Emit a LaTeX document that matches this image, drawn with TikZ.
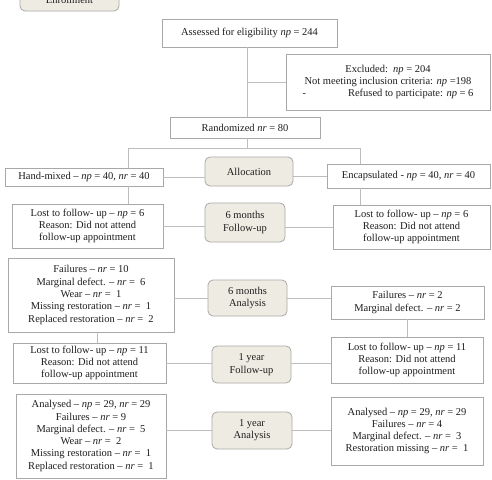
\documentclass[tikz,border=0pt]{standalone}
\usepackage{fontspec}
\setmainfont{Liberation Serif}
\definecolor{boxline}{HTML}{A8A8A8}
\definecolor{conn}{HTML}{BDBDBD}
\definecolor{beige}{HTML}{EEECE2}
\definecolor{txt}{HTML}{1E1E1E}
\begin{document}
\begin{tikzpicture}[x=1pt,y=-1pt,
  every node/.style={font=\fontsize{10.5}{12.3}\selectfont, text=txt},
  box/.style={draw=boxline, line width=0.8pt, fill=white, align=center, inner sep=0pt},
  stage/.style={draw=boxline, line width=0.8pt, fill=beige, rounded corners=5pt, align=center, inner sep=0pt},
  link/.style={draw=conn, line width=0.8pt}]
\useasboundingbox (0,0) rectangle (492,479);
\newcommand{\np}{\textit{np}}
\newcommand{\nr}{\textit{nr}}
% stages
\node[stage, minimum width=99pt, minimum height=23pt] (enroll) at (69.5,-0.5) {Enrollment};
\node[stage, minimum width=88pt, minimum height=29pt] (alloc) at (249,171.5) {Allocation};
\node[stage, minimum width=80pt, minimum height=39pt] (fu6) at (245,222.5) {6 months\\Follow-up};
\node[stage, minimum width=79pt, minimum height=36pt] (an6) at (247.5,298) {6 months\\Analysis};
\node[stage, minimum width=79pt, minimum height=37pt] (fu1) at (251.5,364.5) {1 year\\Follow-up};
\node[stage, minimum width=80pt, minimum height=37pt] (an1) at (252,430.5) {1 year\\Analysis};
% boxes
\node[box, minimum width=175pt, minimum height=28pt] (assess) at (249.5,33) {Assessed for eligibility \np{} = 244};
\node[box, minimum width=204pt, minimum height=56pt] (excl) at (388,82) {Excluded:\ \ \np{} = 204\\Not meeting inclusion criteria: \np{} =198\\-\hspace{42pt}Refused to participate: \np{} = 6};
\node[box, minimum width=150pt, minimum height=21pt] (rand) at (245,127.5) {Randomized \nr{} = 80};
\node[box, minimum width=158pt, minimum height=18pt] (hand) at (84,177) {Hand-mixed -- \np{} = 40, \nr{} = 40};
\node[box, minimum width=163pt, minimum height=24pt] (encap) at (408.5,176) {Encapsulated - \np{} = 40, \nr{} = 40};
\node[box, minimum width=151pt, minimum height=44pt] (lostL1) at (87.5,226) {Lost to follow- up -- \np{} = 6\\Reason: Did not attend\\follow-up appointment};
\node[box, minimum width=157pt, minimum height=44pt] (lostR1) at (411.5,227) {Lost to follow- up -- \np{} = 6\\Reason: Did not attend\\follow-up appointment};
\node[box, minimum width=166pt, minimum height=74pt] (failL) at (91,295) {Failures -- \nr{} = 10\\Marginal defect. -- \nr{} =\ \ 6\\Wear -- \nr{} =\ \ 1\\Missing restoration -- \nr{} =\ \ 1\\Replaced restoration -- \nr{} =\ \ 2};
\node[box, minimum width=153pt, minimum height=33pt] (failR) at (407.5,302.5) {Failures -- \nr{} = 2\\Marginal defect. -- \nr{} = 2};
\node[box, minimum width=153pt, minimum height=40pt] (lostL2) at (89.5,363) {Lost to follow- up -- \np{} = 11\\Reason: Did not attend\\follow-up appointment};
\node[box, minimum width=152pt, minimum height=46pt] (lostR2) at (407,360) {Lost to follow- up -- \np{} = 11\\Reason: Did not attend\\follow-up appointment};
\node[box, minimum width=150pt, minimum height=84pt] (anL) at (91,436) {Analysed -- \np{} = 29, \nr{} = 29\\Failures -- \nr{} = 9\\Marginal defect. -- \nr{} =\ \ 5\\Wear -- \nr{} =\ \ 2\\Missing restoration -- \nr{} =\ \ 1\\Replaced restoration -- \nr{} =\ \ 1};
\node[box, minimum width=152pt, minimum height=68pt] (anR) at (407,431) {Analysed -- \np{} = 29, \nr{} = 29\\Failures -- \nr{} = 4\\Marginal defect. -- \nr{} =\ \ 3\\Restoration missing -- \nr{} =\ \ 1};
% junction coordinates
\coordinate (mx) at (247,0);
\coordinate (bx) at (247,82);
\coordinate (sp) at (247,148);
\coordinate (spL) at (128,148);
\coordinate (spR) at (360,148);
\coordinate (cL) at (97,0);
\coordinate (cR) at (407,0);
% connectors
\draw[link] (assess.south -| mx) -- (rand.north -| mx);
\draw[link] (bx) -- (excl.west |- bx);
\draw[link] (rand.south -| sp) -- (sp);
\draw[link] (spL) -- (spR);
\draw[link] (spL) -- (hand.north -| spL);
\draw[link] (spR) -- (encap.north -| spR);
\draw[link] (hand.east) -- (alloc.west |- hand.east);
\draw[link] (alloc.east |- encap.west) -- (encap.west);
\draw[link] (hand.south -| spL) -- (lostL1.north -| spL);
\draw[link] (encap.south -| spR) -- (lostR1.north -| spR);
\draw[link] (lostL1.east) -- (fu6.west |- lostL1.east);
\draw[link] (fu6.east |- lostR1.west) -- (lostR1.west);
\draw[link] (failL.east |- an6.west) -- (an6.west);
\draw[link] (an6.east) -- (failR.west |- an6.east);
\draw[link] (failL.south -| cL) -- (lostL2.north -| cL);
\draw[link] (failR.south -| cR) -- (lostR2.north -| cR);
\draw[link] (lostL2.east) -- (fu1.west |- lostL2.east);
\draw[link] (fu1.east |- lostL2.east) -- (lostR2.west |- lostL2.east);
\draw[link] (anL.east |- an1.west) -- (an1.west);
\draw[link] (an1.east) -- (anR.west |- an1.east);
\end{tikzpicture}
\end{document}
